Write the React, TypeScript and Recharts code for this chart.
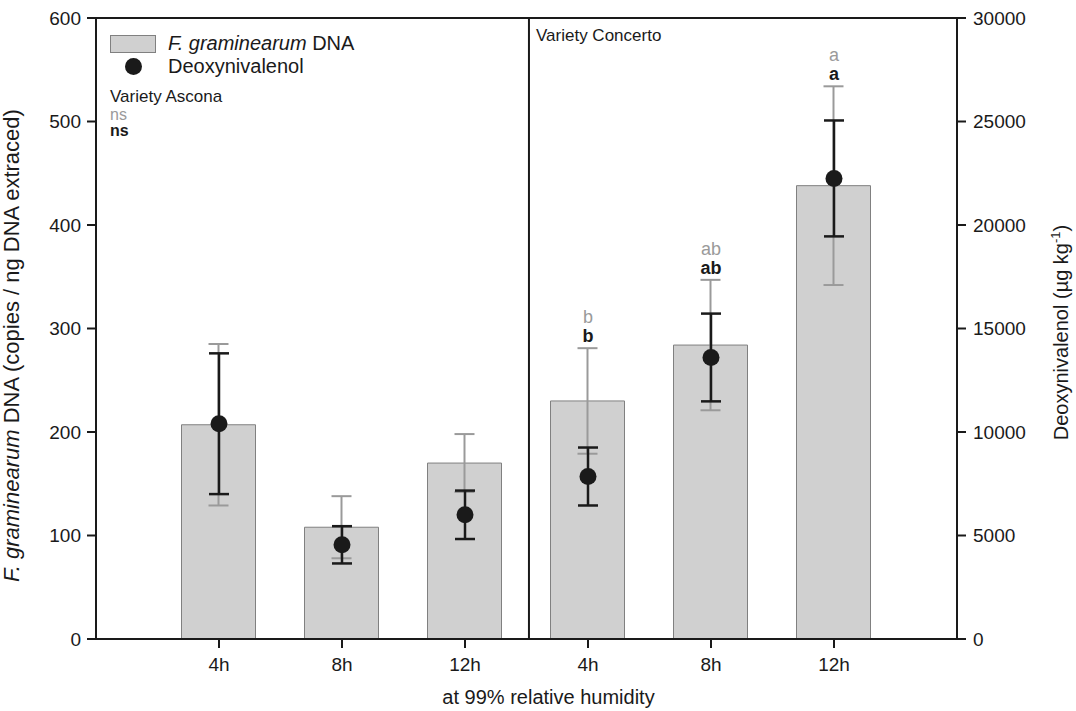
import React from 'react';
import {
  ComposedChart,
  Bar,
  Line,
  XAxis,
  YAxis,
  ErrorBar,
  ReferenceLine,
  Legend,
  LabelList,
} from 'recharts';

const positions = [1, 2, 3, 4, 5, 6];
const tickLabels = ['4h', '8h', '12h', '4h', '8h', '12h'];
const dnaMean = [207, 108, 170, 230, 284, 438];
const dnaErr = [78, 30, 28, 51, 63, 96];
const donMean = [10400, 4550, 6000, 7850, 13600, 22250];
const donErr = [3400, 900, 1170, 1400, 2120, 2800];
const letterGray = ['', '', '', 'b', 'ab', 'a'];
const letterBlack = ['', '', '', 'b', 'ab', 'a'];
const leftTicks = [0, 100, 200, 300, 400, 500, 600];
const rightTicks = [0, 5000, 10000, 15000, 20000, 25000, 30000];

const data = positions.map((x, i) => ({
  x,
  dna: dnaMean[i],
  dnaErr: dnaErr[i],
  don: donMean[i],
  donErr: donErr[i],
  top: letterGray[i] ? dnaMean[i] + dnaErr[i] : null,
  g: letterGray[i],
  b: letterBlack[i],
}));

const FONT = '"Liberation Sans", Arial, Helvetica, sans-serif';
const INK = '#1a1a1a';
const GRAY = '#9a9a9a';
const BAR_FILL = '#d0d0d0';
const BAR_STROKE = '#808080';

function letterContent(color: string, dy: number, bold: boolean) {
  return (p: any) => {
    const vb = p.viewBox || {};
    const x = vb.x ?? p.x;
    const y = vb.y ?? p.y;
    if (!p.value || x == null || y == null || isNaN(y)) return null;
    return (
      <text
        x={x}
        y={y + dy}
        textAnchor="middle"
        fontFamily={FONT}
        fontSize={18}
        fontWeight={bold ? 'bold' : 'normal'}
        fill={color}
      >
        {p.value}
      </text>
    );
  };
}

function LegendBox() {
  return (
    <div style={{ fontFamily: FONT, fontSize: 20, color: INK, lineHeight: '23px' }}>
      <div style={{ display: 'flex', alignItems: 'center', height: 23 }}>
        <div
          style={{
            width: 46,
            height: 18,
            background: BAR_FILL,
            border: `1px solid ${BAR_STROKE}`,
            boxSizing: 'border-box',
          }}
        />
        <span style={{ marginLeft: 12 }}>
          <i>F. graminearum</i> DNA
        </span>
      </div>
      <div style={{ display: 'flex', alignItems: 'center', height: 23 }}>
        <div style={{ width: 46, display: 'flex', justifyContent: 'center' }}>
          <div style={{ width: 17, height: 17, borderRadius: '50%', background: INK }} />
        </div>
        <span style={{ marginLeft: 12 }}>Deoxynivalenol</span>
      </div>
    </div>
  );
}

const LeftLabel = (p: any) => {
  const vb = p.viewBox || { x: 0, y: 18, width: 96, height: 621 };
  const x = vb.x + 19;
  const y = vb.y + vb.height / 2 + 17;
  return (
    <text
      x={x}
      y={y}
      transform={`rotate(-90, ${x}, ${y})`}
      textAnchor="middle"
      fontFamily={FONT}
      fontSize={22}
      fill={INK}
    >
      <tspan fontStyle="italic">F. graminearum</tspan>
      <tspan> DNA (copies / ng DNA extraced)</tspan>
    </text>
  );
};

const RightLabel = (p: any) => {
  const vb = p.viewBox || { x: 957, y: 18, width: 119, height: 621 };
  const x = vb.x + 111;
  const y = vb.y + vb.height / 2 + 4;
  return (
    <text
      x={x}
      y={y}
      transform={`rotate(-90, ${x}, ${y})`}
      textAnchor="middle"
      fontFamily={FONT}
      fontSize={20}
      fill={INK}
    >
      <tspan>Deoxynivalenol (µg kg</tspan>
      <tspan dy={-8} fontSize={13}>-1</tspan>
      <tspan dy={8}>)</tspan>
    </text>
  );
};

const BottomLabel = (p: any) => {
  const vb = p.viewBox || { x: 96, y: 639, width: 861, height: 72 };
  const x = vb.x + vb.width / 2 + 22;
  const y = vb.y + 65;
  return (
    <text x={x} y={y} textAnchor="middle" fontFamily={FONT} fontSize={20} fill={INK}>
      at 99% relative humidity
    </text>
  );
};

export default function App() {
  const tickStyle = { fontSize: 19, fill: INK, fontFamily: FONT };
  const lineStyle = { stroke: INK, strokeWidth: 2 };
  return (
    <div style={{ position: 'absolute', left: 0, top: 0, width: 1076, height: 711, background: '#fff' }}>
      <ComposedChart
        width={1076}
        height={711}
        data={data}
        margin={{ top: 18, right: 0, bottom: 0, left: 0 }}
      >
        <XAxis
          dataKey="x"
          type="number"
          domain={[0, 7]}
          ticks={positions}
          tickFormatter={(v: number) => tickLabels[positions.indexOf(v)] ?? ''}
          height={72}
          tickSize={9}
          tickMargin={10}
          axisLine={lineStyle}
          tickLine={lineStyle}
          tick={tickStyle}
          interval={0}
          label={<BottomLabel />}
        />
        <YAxis
          yAxisId="left"
          domain={[0, 600]}
          ticks={leftTicks}
          width={96}
          tickSize={9}
          tickMargin={6}
          axisLine={lineStyle}
          tickLine={lineStyle}
          tick={tickStyle}
          interval={0}
          label={<LeftLabel />}
        />
        <YAxis
          yAxisId="right"
          orientation="right"
          domain={[0, 30000]}
          ticks={rightTicks}
          width={119}
          tickSize={9}
          tickMargin={7}
          axisLine={lineStyle}
          tickLine={lineStyle}
          tick={tickStyle}
          interval={0}
          label={<RightLabel />}
        />
        <ReferenceLine yAxisId="left" y={600} stroke={INK} strokeWidth={2} />
        <ReferenceLine yAxisId="left" x={3.52} stroke={INK} strokeWidth={2} />
        <Legend
          verticalAlign="middle"
          align="center"
          content={() => <LegendBox />}
          wrapperStyle={{ position: 'absolute', left: 110, top: 32, width: 320, margin: 0, padding: 0 }}
        />
        <Bar
          yAxisId="left"
          dataKey="dna"
          name="F. graminearum DNA"
          barSize={74}
          fill={BAR_FILL}
          stroke={BAR_STROKE}
          strokeWidth={1}
          isAnimationActive={false}
        >
          <ErrorBar dataKey="dnaErr" width={10} stroke={GRAY} strokeWidth={2} />
        </Bar>
        <Line
          yAxisId="right"
          dataKey="don"
          name="Deoxynivalenol"
          stroke="none"
          dot={{ r: 8.5, fill: INK, stroke: 'none' }}
          activeDot={false}
          isAnimationActive={false}
        >
          <ErrorBar dataKey="donErr" width={10} stroke={INK} strokeWidth={2.5} />
        </Line>
        <Line
          yAxisId="left"
          dataKey="top"
          stroke="none"
          dot={false}
          activeDot={false}
          legendType="none"
          isAnimationActive={false}
        >
          <LabelList dataKey="g" content={letterContent(GRAY, -25, false)} />
          <LabelList dataKey="b" content={letterContent(INK, -6, true)} />
        </Line>
      </ComposedChart>
      <svg
        width={1076}
        height={711}
        style={{ position: 'absolute', left: 0, top: 0, pointerEvents: 'none' }}
      >
        <text x={110} y={102} fontFamily={FONT} fontSize={17} fill={INK}>
          Variety Ascona
        </text>
        <text x={110} y={120} fontFamily={FONT} fontSize={16} fill={GRAY}>
          ns
        </text>
        <text x={110} y={136} fontFamily={FONT} fontSize={16} fontWeight="bold" fill={INK}>
          ns
        </text>
        <text x={536} y={41} fontFamily={FONT} fontSize={17} fill={INK}>
          Variety Concerto
        </text>
      </svg>
    </div>
  );
}
